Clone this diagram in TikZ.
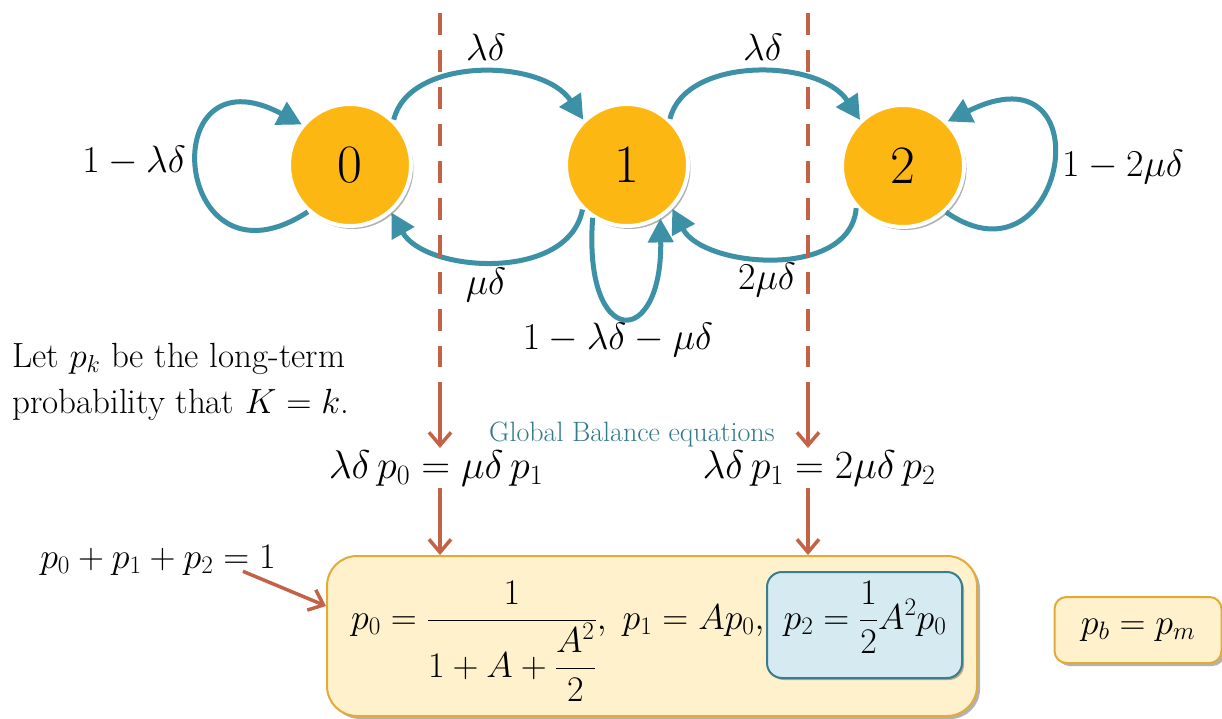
\RequirePackage{fix-cm}
\documentclass[tikz,border=0pt]{standalone}
\usepackage{amsmath}
\usetikzlibrary{arrows.meta,shadows,calc}
\definecolor{stateorange}{RGB}{253,183,19}
\definecolor{edgeteal}{RGB}{60,145,166}
\definecolor{cutred}{RGB}{196,98,72}
\definecolor{boxfill}{RGB}{255,241,204}
\definecolor{boxdraw}{RGB}{226,170,55}
\definecolor{bluefill}{RGB}{213,235,241}
\definecolor{bluedraw}{RGB}{58,125,140}
\definecolor{titleteal}{RGB}{49,122,135}
\newcommand\myfs[1]{\fontsize{#1}{#1}\selectfont}
\begin{document}
\begin{tikzpicture}[x=1pt,y=-1pt,
  state/.style={circle, fill=stateorange, draw=white, line width=4pt, minimum size=122pt, inner sep=0pt, font=\myfs{54},
    drop shadow={shadow xshift=2.5pt,shadow yshift=-3pt,opacity=0.3,fill=black}},
  trans/.style={draw=edgeteal, line width=5pt, -{Triangle[length=24pt,width=25pt]}},
  lbl/.style={font=\myfs{38}, inner sep=0pt},
  eqn/.style={font=\myfs{40}, inner sep=2pt},
  cut/.style={draw=cutred, line width=4.5pt, dash pattern=on 22pt off 15pt},
  flow/.style={draw=cutred, line width=3.5pt, -{Straight Barb[length=13pt,width=22pt]}},
  mainbox/.style={rectangle, rounded corners=30pt, fill=boxfill, draw=boxdraw, line width=2pt,
    drop shadow={shadow xshift=3pt,shadow yshift=-3pt,opacity=0.3,fill=black}},
  bluebox/.style={rectangle, rounded corners=15pt, fill=bluefill, draw=bluedraw, line width=2pt,
    drop shadow={shadow xshift=2pt,shadow yshift=-2pt,opacity=0.3,fill=black}},
  boxmath/.style={font=\myfs{36}, inner sep=0pt}
]
\useasboundingbox[fill=white] (0,0) rectangle (1222,719);

% states
\node[state] (n0) at (350,165) {0};
\node[state] (n1) at (627,165) {1};
\node[state] (n2) at (903,166) {2};

% transitions
\draw[trans] (n0.46) .. controls +(15,-63) and +(-41,-62) .. (n1.134);
\draw[trans] (n1.47) .. controls +(15,-63) and +(-41,-62) .. (n2.133);
\draw[trans] (n1.225) .. controls +(-14,73) and +(34,60) .. (n0.311);
\draw[trans] (n2.222) .. controls +(-6,72) and +(31,59) .. (n1.316);
\draw[trans] (n1.237) .. controls +(-10,132) and +(2,132) .. (n1.302);
\draw[trans] (n0.228) .. controls +(-135,88) and +(-150,-80) .. (n0.140);
\draw[trans] (n2.313) .. controls +(120,83) and +(160,-80) .. (n2.45);

% labels
\node[lbl] (l00) at (134,161) {$1-\lambda\delta$};
\node[lbl] (l01) at (486,47) {$\lambda\delta$};
\node[lbl] (l12) at (763,47) {$\lambda\delta$};
\node[lbl] (l10) at (486,285) {$\mu\delta$};
\node[lbl] (l21) at (767,280) {$2\mu\delta$};
\node[lbl] (l22) at (1123,167) {$1-2\mu\delta$};
\node[lbl] (l11) at (618,340) {$1-\lambda\delta-\mu\delta$};

% cuts
\coordinate (c1t) at (440,13);
\coordinate (c1b) at (440,367);
\coordinate (c2t) at (808,13);
\coordinate (c2b) at (808,367);
\draw[cut] (c1t) -- (c1b);
\draw[cut] (c2t) -- (c2b);

% text
\node[anchor=north west, align=left, inner sep=0pt, font=\fontsize{35}{46}\selectfont] (intro) at (12,343)
  {Let $p_k$ be the long-term\\probability that $K=k$.};
\node[font=\myfs{28}, text=titleteal, inner sep=0pt] (gb) at (632,434) {Global Balance equations};

% equations
\node[eqn] (eq1) at (436,468) {$\lambda\delta\, p_0=\mu\delta\, p_1$};
\node[eqn] (eq2) at (819,468) {$\lambda\delta\, p_1=2\mu\delta\, p_2$};
\node[font=\myfs{36}, inner sep=2pt] (psum) at (158,560) {$p_0+p_1+p_2=1$};

% boxes
\node[mainbox, minimum width=650pt, minimum height=160pt] (mb) at (652,636) {};
\node[bluebox, minimum width=195pt, minimum height=106pt] (bb) at (864.5,625) {};
\node[boxmath, anchor=base west] (fr) at (351,629) {$p_0=\dfrac{1}{1+A+\dfrac{A^2}{2}},\; p_1=Ap_0,$};
\node[boxmath, anchor=base] (p2eq) at (865,629) {$p_2=\dfrac{1}{2}A^2p_0$};
\node[mainbox, rounded corners=12pt, minimum width=167pt, minimum height=66pt, font=\myfs{36}] (pb) at (1138,630) {$p_b=p_m$};

% flow arrows
\coordinate (f1) at (440,382);
\coordinate (f2) at (808,382);
\draw[flow] (f1) -- (f1 |- eq1.north);
\draw[flow] (f2) -- (f2 |- eq2.north);
\draw[flow] (eq1.south -| f1) -- (f1 |- mb.north);
\draw[flow] (eq2.south -| f2) -- (f2 |- mb.north);
\draw[flow] ($(psum.south east)+(-35,-6)$) -- ($(mb.north west)+(0,51)$);
\end{tikzpicture}
\end{document}
